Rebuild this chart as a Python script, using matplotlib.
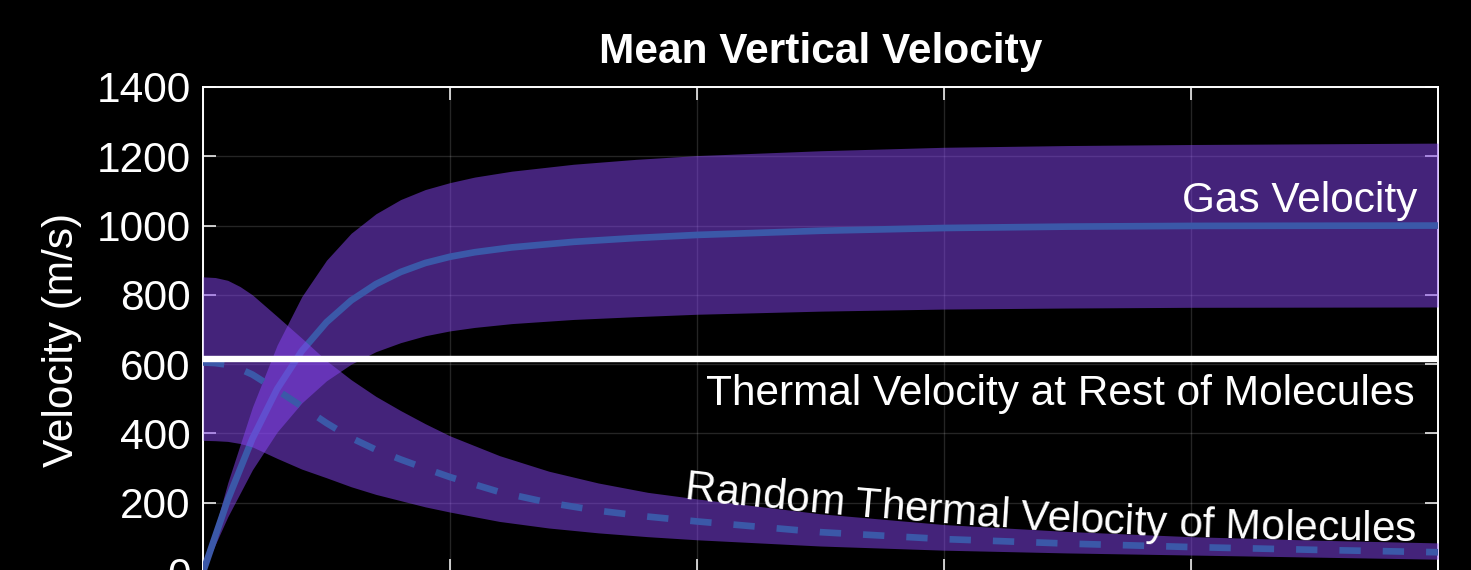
import numpy as np
import matplotlib
matplotlib.use('Agg')
import matplotlib.pyplot as plt
from matplotlib.font_manager import FontProperties

plt.rcParams['font.family'] = ['Liberation Sans', 'DejaVu Sans']

# gas velocity: mean and spread
gas_t = [0, 0.1, 0.2, 0.3, 0.4, 0.5, 0.6, 0.7, 0.8, 0.9, 1.0, 1.1, 1.25, 1.5, 1.75, 2.0, 2.5, 3.0, 3.5, 4.0, 5.0]
gas_mean = [0, 208, 385, 528, 638, 721, 784, 831, 866, 892, 910, 923, 937, 953, 964, 973, 985, 993, 997, 999, 1000]
gas_up = [0, 257, 476, 655, 795, 900, 978, 1034, 1075, 1104, 1124, 1140, 1157, 1177, 1191, 1202, 1216, 1226, 1231, 1234, 1238]
gas_lo = [0, 159, 295, 404, 488, 552, 600, 636, 662, 682, 696, 706, 717, 729, 737, 744, 753, 759, 762, 764, 765]

# random thermal velocity of molecules
th_t = [0, 0.05, 0.1, 0.15, 0.2, 0.3, 0.4, 0.5, 0.6, 0.7, 0.8, 0.9, 1.0, 1.2, 1.4, 1.6, 1.8, 2.0, 2.5, 3.0, 3.5, 4.0, 4.5, 5.0]
th_mean = [605, 603, 598, 586, 570, 525, 478, 430, 387, 353, 325, 299, 274, 231, 200, 177, 160, 146, 115, 95, 82, 72, 64, 57]
th_up = [852, 850, 842, 824, 800, 738, 675, 610, 555, 507, 466, 428, 393, 336, 291, 257, 230, 211, 168, 137, 117, 102, 92, 84]
th_lo = [380, 379, 377, 371, 361, 328, 297, 272, 246, 224, 206, 188, 173, 146, 127, 113, 102, 93, 75, 63, 55, 49, 43, 37]

# thermal velocity at rest
v_rest = 614

yticks = [0, 200, 400, 600, 800, 1000, 1200, 1400]
xticks = [0, 1, 2, 3, 4, 5]

fill_col = '#8846F4'
line_col = '#3B58A8'
fs = 30.5

fig = plt.figure(figsize=(14.71, 5.70), dpi=100, facecolor='black')
ax = fig.add_axes([203/1471, -2/570, 1235/1471, 485/570])
ax.set_facecolor('black')

ax.fill_between(gas_t, gas_lo, gas_up, color=fill_col, alpha=0.5, lw=0, zorder=2)
ax.plot(gas_t, gas_mean, color=line_col, lw=4.8, zorder=3)
ax.fill_between(th_t, th_lo, th_up, color=fill_col, alpha=0.5, lw=0, zorder=4)
ax.plot(th_t, th_mean, color=line_col, lw=4.8, ls=(0, (3.2, 3.3)),
        dash_capstyle='butt', zorder=5)
ax.axhline(v_rest, color='white', lw=4.6, zorder=6)

ax.set_xlim(0, 5)
ax.set_ylim(0, 1400)
ax.set_xticks(xticks)
ax.set_xticklabels([])
ax.set_yticks(yticks)
ax.set_axisbelow(True)
ax.grid(True, color='white', alpha=0.15, lw=1.0)
for sp in ax.spines.values():
    sp.set_color('white')
    sp.set_linewidth(1.4)
    sp.set_zorder(1.5)
ax.tick_params(direction='in', length=9.4, width=1.1, colors='white',
               top=True, right=True, labelsize=fs, pad=9)

ax.set_title('Mean Vertical Velocity', color='white', fontsize=fs,
             fontweight='bold', pad=17)
ax.set_ylabel('Velocity (m/s)', color='white', fontsize=fs)
ax.yaxis.set_label_coords(-0.098, 0.478)

ax.text(4.915, 1039, 'Gas Velocity', color='white', fontsize=fs,
        ha='right', va='baseline', zorder=7)
ax.text(4.907, 482, 'Thermal Velocity at Rest of Molecules', color='white',
        fontsize=fs, ha='right', va='baseline', zorder=7)

# curved label: characters placed one by one along a baseline
label = 'Random Thermal Velocity of Molecules'
label_t = [1.95, 2.66, 3.36, 4.17, 4.91]
label_v = [211, 156, 127, 95, 90]

fp = FontProperties(family='Liberation Sans', size=fs)
rend = fig.canvas.get_renderer()

def text_w(s):
    return rend.get_text_width_height_descent(s, fp, ismath=False)[0]

P = ax.transData.transform(np.c_[label_t, label_v])
coef = np.polyfit(P[:, 0], P[:, 1], 2)
xs = np.linspace(P[0, 0] - 150, P[-1, 0] + 10, 1500)
ys = np.polyval(coef, xs)
arc = np.r_[0, np.cumsum(np.hypot(np.diff(xs), np.diff(ys)))]
s_end = np.interp(P[-1, 0], xs, arc)
total = text_w(label)
inv = ax.transData.inverted()
dcoef = np.polyder(coef)
for i, ch in enumerate(label):
    if ch == ' ':
        continue
    c = text_w(label[:i + 1]) - text_w(ch) / 2
    s = s_end - total + c
    x = np.interp(s, arc, xs)
    y = np.polyval(coef, x)
    ang = np.degrees(np.arctan(np.polyval(dcoef, x)))
    tx, ty = inv.transform((x, y))
    ax.text(tx, ty, ch, color='white', fontproperties=fp, ha='center',
            va='baseline', rotation=ang, rotation_mode='anchor', zorder=7)

fig.savefig('out.png', dpi=100, facecolor='black')
